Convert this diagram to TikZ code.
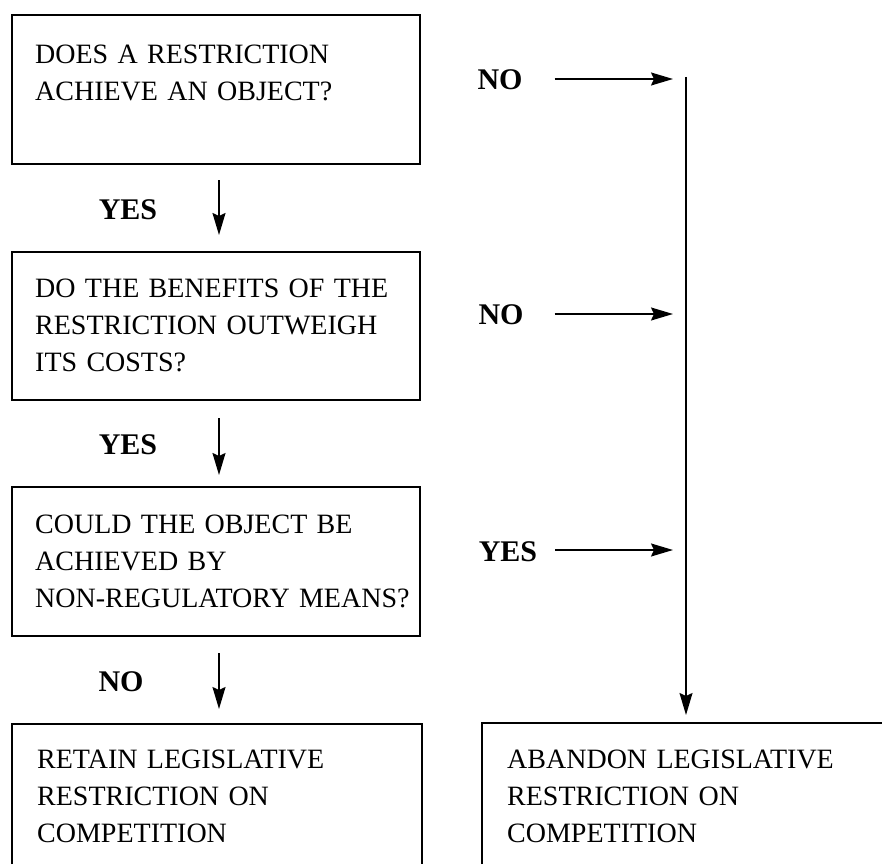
\documentclass[tikz,border=0pt]{standalone}
\usepackage{fontspec}
\setmainfont{Liberation Serif}
\usetikzlibrary{arrows.meta}
\begin{document}
\begin{tikzpicture}[x=1pt,y=-1pt,
  boxline/.style={line width=1.9pt},
  qbox/.style={draw, line width=1.9pt, rectangle, inner sep=0pt, outer sep=0pt, anchor=north west},
  qtext/.style={anchor=base west, inner sep=0pt, align=left, text width=420pt, font=\fontsize{28}{37}\selectfont},
  lab/.style={inner sep=0pt, font=\fontsize{30}{36}\selectfont\bfseries},
  arr/.style={line width=1.6pt, -{Stealth[length=22pt,width=13pt,inset=3pt]}},
]
\useasboundingbox (0,0) rectangle (882,864);

% question boxes
\node[qbox, minimum width=408pt, minimum height=149pt] (b1) at (12,15) {};
\node[qbox, minimum width=408pt, minimum height=148pt] (b2) at (12,252) {};
\node[qbox, minimum width=408pt, minimum height=149pt] (b3) at (12,487) {};

% outcome boxes (cut off by the page edge)
\draw[boxline] (12,864) -- (12,724) -- (422,724) -- (422,864);
\draw[boxline] (482,864) -- (482,723) -- (882,723);
\coordinate (b4top) at (219,724);
\coordinate (b5top) at (686,723);

% texts
\node[qtext] (t1) at (35,64) {DOES A RESTRICTION\\ACHIEVE AN OBJECT?};
\node[qtext] (t2) at (35,297) {DO THE BENEFITS OF THE\\RESTRICTION OUTWEIGH\\ITS COSTS?};
\node[qtext] (t3) at (35,533) {COULD THE OBJECT BE\\ACHIEVED BY\\NON-REGULATORY MEANS?};
\node[qtext] (t4) at (37,768) {RETAIN LEGISLATIVE\\RESTRICTION ON\\COMPETITION};
\node[qtext, text width=370pt] (t5) at (507,768) {ABANDON LEGISLATIVE\\RESTRICTION ON\\COMPETITION};

% labels
\node[lab] (y1) at (128,210) {YES};
\node[lab] (y2) at (128,445) {YES};
\node[lab] (n3) at (121,682) {NO};
\node[lab] (n1) at (500,80) {NO};
\node[lab] (n2) at (501,315) {NO};
\node[lab] (y3) at (508,552) {YES};

% downward connectors
\draw[arr] ([shift={(3,16)}]b1.south) -- ([shift={(3,-17)}]b2.north);
\draw[arr] ([shift={(3,18)}]b2.south) -- ([shift={(3,-12)}]b3.north);
\draw[arr] ([shift={(3,17)}]b3.south) -- ([shift={(0,-15)}]b4top);

% trunk to abandon
\coordinate (trk) at (686,77);
\draw[arr, shorten >=8pt] (trk) -- (b5top);

% side arrows
\draw[arr, shorten <=32pt, shorten >=13pt] ([yshift=1pt]n1.east) -- ([yshift=1pt]n1.east -| trk);
\draw[arr, shorten <=31pt, shorten >=13pt] ([yshift=1pt]n2.east) -- ([yshift=1pt]n2.east -| trk);
\draw[arr, shorten <=18pt, shorten >=13pt] ([yshift=2pt]y3.east) -- ([yshift=2pt]y3.east -| trk);
\end{tikzpicture}
\end{document}
